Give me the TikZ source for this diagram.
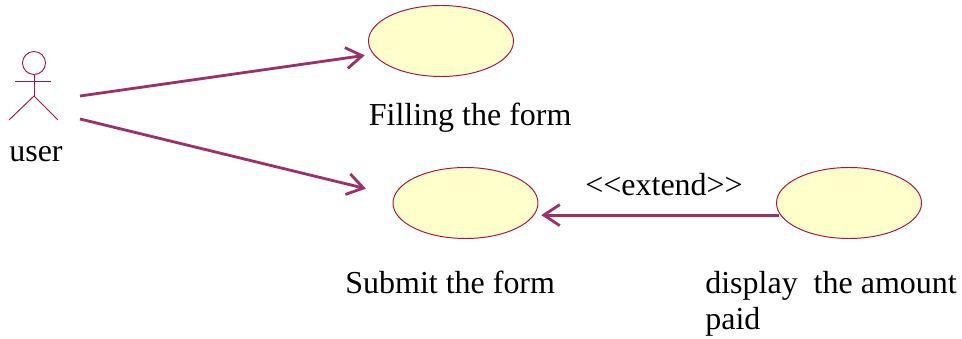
\documentclass[tikz,border=0pt]{standalone}
\usepackage{fontspec}
\setmainfont{Liberation Serif}
\usetikzlibrary{arrows.meta}
\usetikzlibrary{shapes.geometric}
\definecolor{linepurple}{RGB}{156,48,104}
\definecolor{edgecrimson}{RGB}{170,20,70}
\definecolor{casefill}{RGB}{255,255,204}
\tikzset{
  usecase/.style={ellipse,draw=edgecrimson,fill=casefill,line width=0.55pt,minimum width=2.9cm,minimum height=1.42cm,inner sep=0pt},
  actorline/.style={draw=edgecrimson,line width=0.55pt},
  assoc/.style={draw=linepurple,line width=1.6pt,-{Straight Barb[length=3.2mm,width=4.2mm,line width=1.6pt]}},
  label/.style={anchor=base west,inner sep=0pt,font=\fontsize{18.2}{20}\selectfont}
}
\begin{document}
\begin{tikzpicture}
\useasboundingbox (0,0) rectangle (19.24,6.78);
\draw (8.82,5.96) node[usecase] (filling) {};
\draw (9.31,2.72) node[usecase] (submit) {};
\draw (16.98,2.72) node[usecase] (display) {};
\draw (0.68,5.52) node[circle,actorline,minimum size=0.46cm,inner sep=0pt] (head) {};
\coordinate (hip) at (0.68,4.86);
\coordinate (armleft) at (0.30,5.16);
\coordinate (armright) at (1.02,5.16);
\coordinate (footleft) at (0.18,4.38);
\coordinate (footright) at (1.16,4.38);
\draw[actorline] (head.south) -- (hip);
\draw[actorline] (armleft) -- (armright);
\draw[actorline] (footleft) -- (hip) -- (footright);
\coordinate (userup) at (1.60,4.86);
\coordinate (userdown) at (1.60,4.40);
\draw[assoc,shorten >=0.17cm] (userup) -- (filling.191);
\draw[assoc,shorten >=0.58cm] (userdown) -- (submit.174);
\draw[assoc,shorten >=0.14cm,shorten <=0.02cm] (display.190) -- (submit.-10);
\draw (0.18,3.54) node[label] (userlabel) {user};
\draw (7.37,4.26) node[label] (fillinglabel) {Filling the form};
\draw (6.90,0.90) node[label] (submitlabel) {Submit the form};
\draw (11.70,2.86) node[label] (extendlabel) {<{}<extend>{}>};
\draw (14.10,0.90) node[label] (displaylabel) {display\ \ the amount};
\draw (14.10,0.18) node[label] (paidlabel) {paid};
\end{tikzpicture}
\end{document}
